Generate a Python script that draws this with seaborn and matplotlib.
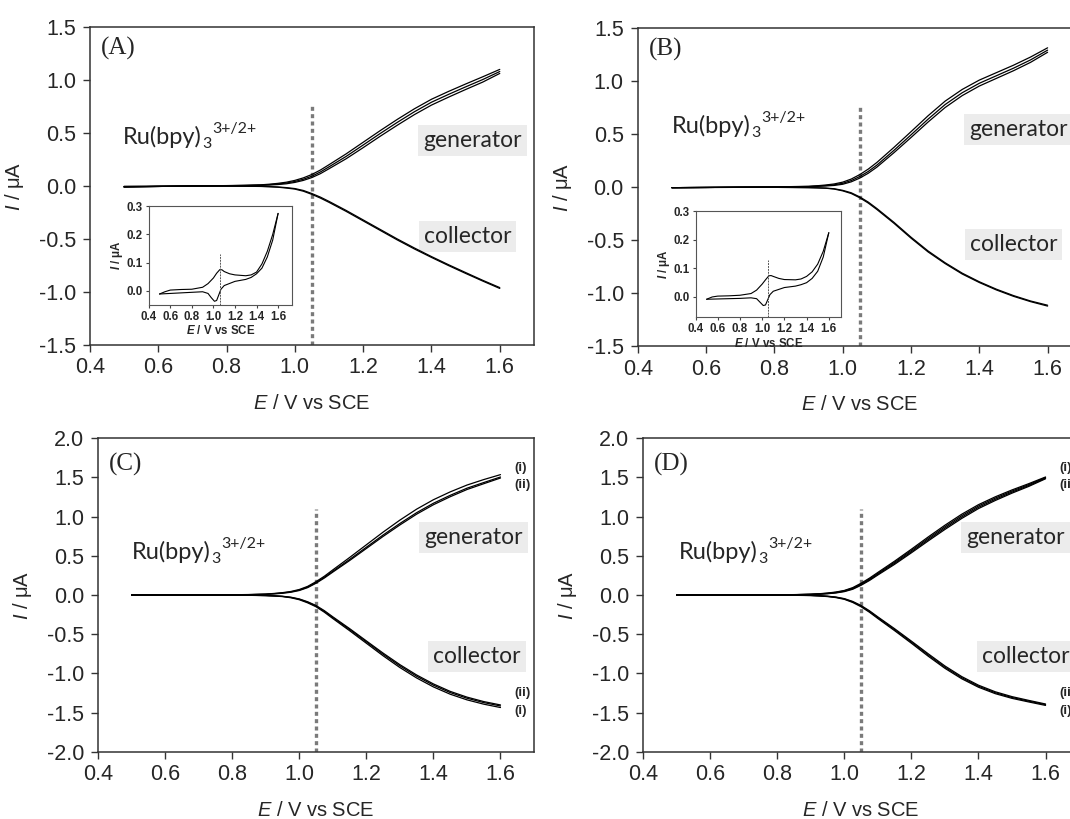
import numpy as np
import pandas as pd
import matplotlib
matplotlib.use('Agg')
import matplotlib.pyplot as plt
import seaborn as sns

sns.set_theme(style='white')
plt.rcParams['font.family'] = ['Liberation Sans', 'DejaVu Sans']
plt.rcParams['axes.unicode_minus'] = False
plt.rcParams['mathtext.fontset'] = 'custom'
plt.rcParams['mathtext.rm'] = 'Liberation Sans'
plt.rcParams['mathtext.it'] = 'Liberation Sans:italic'
plt.rcParams['mathtext.bf'] = 'Liberation Sans:bold'
plt.rcParams['mathtext.bfit'] = 'Liberation Sans:italic:bold'

# potential grid (V vs SCE) shared by all main traces
E = [0.50, 0.60, 0.70, 0.80, 0.85, 0.90, 0.925, 0.95, 0.975, 1.00, 1.025, 1.05,
     1.075, 1.10, 1.15, 1.20, 1.25, 1.30, 1.35, 1.40, 1.45, 1.50, 1.55, 1.60]

# ---- panel A ----
gen_A1 = [-0.010, -0.005, 0.000, 0.003, 0.006, 0.010, 0.016, 0.024, 0.035, 0.052, 0.076, 0.108,
          0.150, 0.200, 0.302, 0.412, 0.522, 0.628, 0.728, 0.818, 0.892, 0.962, 1.030, 1.100]
gen_A2 = [-0.010, -0.005, 0.000, 0.002, 0.004, 0.008, 0.012, 0.018, 0.027, 0.042, 0.063, 0.092,
          0.132, 0.180, 0.278, 0.386, 0.495, 0.600, 0.700, 0.790, 0.864, 0.935, 1.004, 1.080]
gen_A3 = [-0.010, -0.005, 0.000, 0.001, 0.002, 0.005, 0.008, 0.013, 0.020, 0.033, 0.052, 0.079,
          0.116, 0.162, 0.256, 0.361, 0.469, 0.573, 0.673, 0.763, 0.838, 0.910, 0.980, 1.062]
col_A1 = [-0.005, -0.003, -0.002, -0.002, -0.003, -0.005, -0.008, -0.012, -0.020, -0.030, -0.050, -0.080,
          -0.115, -0.155, -0.240, -0.330, -0.420, -0.510, -0.595, -0.675, -0.752, -0.826, -0.898, -0.968]
col_A2 = [-0.005, -0.003, -0.002, -0.002, -0.003, -0.004, -0.006, -0.010, -0.016, -0.025, -0.043, -0.072,
          -0.106, -0.146, -0.231, -0.321, -0.411, -0.501, -0.586, -0.667, -0.744, -0.818, -0.891, -0.960]

# ---- panel B ----
gen_B1 = [-0.005, -0.003, 0.000, 0.003, 0.005, 0.008, 0.013, 0.020, 0.030, 0.047, 0.076, 0.118,
          0.170, 0.232, 0.374, 0.522, 0.672, 0.810, 0.920, 1.008, 1.078, 1.148, 1.225, 1.312]
gen_B2 = [-0.005, -0.003, 0.000, 0.002, 0.004, 0.006, 0.010, 0.015, 0.022, 0.036, 0.062, 0.100,
          0.148, 0.207, 0.346, 0.492, 0.640, 0.778, 0.889, 0.978, 1.049, 1.120, 1.198, 1.290]
gen_B3 = [-0.005, -0.003, 0.000, 0.001, 0.002, 0.004, 0.007, 0.011, 0.016, 0.027, 0.050, 0.085,
          0.131, 0.188, 0.324, 0.467, 0.613, 0.750, 0.862, 0.952, 1.024, 1.096, 1.175, 1.270]
col_B1 = [-0.005, -0.003, -0.002, -0.002, -0.003, -0.005, -0.007, -0.010, -0.018, -0.035, -0.060, -0.100,
          -0.150, -0.210, -0.340, -0.480, -0.610, -0.720, -0.818, -0.898, -0.968, -1.028, -1.078, -1.120]
col_B2 = [-0.005, -0.003, -0.002, -0.002, -0.003, -0.004, -0.006, -0.009, -0.015, -0.030, -0.053, -0.092,
          -0.141, -0.201, -0.331, -0.471, -0.601, -0.712, -0.810, -0.891, -0.961, -1.021, -1.072, -1.112]

# ---- panel C ----
gen_C1 = [0.000, 0.000, 0.000, 0.003, 0.006, 0.012, 0.020, 0.030, 0.045, 0.070, 0.110, 0.170,
          0.240, 0.320, 0.478, 0.640, 0.802, 0.955, 1.095, 1.215, 1.315, 1.402, 1.472, 1.535]
gen_C2 = [0.000, 0.000, 0.000, 0.002, 0.005, 0.010, 0.017, 0.026, 0.040, 0.063, 0.101, 0.159,
          0.227, 0.303, 0.453, 0.609, 0.765, 0.912, 1.050, 1.170, 1.271, 1.362, 1.434, 1.505]
gen_C3 = [0.000, 0.000, 0.000, 0.002, 0.004, 0.008, 0.014, 0.022, 0.035, 0.057, 0.094, 0.150,
          0.217, 0.292, 0.439, 0.593, 0.747, 0.893, 1.031, 1.151, 1.253, 1.345, 1.419, 1.492]
col_C1 = [0.000, 0.000, 0.000, -0.002, -0.004, -0.008, -0.013, -0.020, -0.035, -0.060, -0.100, -0.150,
          -0.220, -0.300, -0.455, -0.615, -0.775, -0.925, -1.058, -1.172, -1.265, -1.337, -1.392, -1.435]
col_C2 = [0.000, 0.000, 0.000, -0.002, -0.003, -0.007, -0.011, -0.018, -0.031, -0.054, -0.092, -0.141,
          -0.209, -0.288, -0.440, -0.598, -0.756, -0.904, -1.036, -1.150, -1.244, -1.316, -1.372, -1.415]
col_C3 = [0.000, 0.000, 0.000, -0.001, -0.003, -0.006, -0.010, -0.016, -0.028, -0.050, -0.086, -0.134,
          -0.200, -0.278, -0.428, -0.585, -0.741, -0.888, -1.020, -1.134, -1.229, -1.302, -1.359, -1.402]

# ---- panel D ----
gen_D1 = [0.000, 0.000, 0.000, 0.003, 0.005, 0.010, 0.016, 0.025, 0.038, 0.058, 0.094, 0.150,
          0.215, 0.288, 0.432, 0.584, 0.740, 0.890, 1.030, 1.152, 1.252, 1.340, 1.420, 1.505]
gen_D2 = [0.000, 0.000, 0.000, 0.002, 0.004, 0.009, 0.014, 0.022, 0.034, 0.053, 0.087, 0.141,
          0.204, 0.276, 0.418, 0.568, 0.722, 0.871, 1.011, 1.135, 1.236, 1.326, 1.408, 1.498]
gen_D3 = [0.000, 0.000, 0.000, 0.002, 0.004, 0.008, 0.012, 0.019, 0.030, 0.048, 0.080, 0.132,
          0.194, 0.265, 0.404, 0.552, 0.705, 0.853, 0.993, 1.118, 1.220, 1.312, 1.396, 1.490]
gen_D4 = [0.000, 0.000, 0.000, 0.001, 0.003, 0.006, 0.010, 0.016, 0.026, 0.043, 0.073, 0.124,
          0.185, 0.255, 0.391, 0.538, 0.689, 0.836, 0.976, 1.102, 1.205, 1.299, 1.385, 1.482]
col_D1 = [0.000, 0.000, 0.000, -0.002, -0.004, -0.007, -0.012, -0.020, -0.033, -0.055, -0.095, -0.150,
          -0.220, -0.300, -0.455, -0.615, -0.780, -0.935, -1.068, -1.176, -1.258, -1.318, -1.364, -1.408]
col_D2 = [0.000, 0.000, 0.000, -0.002, -0.003, -0.006, -0.010, -0.017, -0.029, -0.050, -0.088, -0.141,
          -0.210, -0.289, -0.442, -0.601, -0.764, -0.920, -1.054, -1.163, -1.246, -1.307, -1.354, -1.398]
col_D3 = [0.000, 0.000, 0.000, -0.001, -0.003, -0.005, -0.009, -0.015, -0.026, -0.046, -0.082, -0.134,
          -0.201, -0.279, -0.430, -0.588, -0.749, -0.905, -1.040, -1.150, -1.234, -1.296, -1.344, -1.390]

# ---- insets: single-electrode CVs ----
cv_A_E_fwd = [0.50, 0.55, 0.60, 0.70, 0.80, 0.90, 0.95, 1.00, 1.03, 1.06, 1.08, 1.10, 1.15, 1.20,
              1.30, 1.35, 1.40, 1.45, 1.50, 1.55, 1.60]
cv_A_I_fwd = [-0.012, -0.004, 0.002, 0.004, 0.005, 0.012, 0.025, 0.045, 0.062, 0.075, 0.074, 0.068,
              0.060, 0.056, 0.053, 0.056, 0.066, 0.095, 0.140, 0.200, 0.275]
cv_A_E_rev = [1.60, 1.55, 1.50, 1.45, 1.40, 1.35, 1.30, 1.20, 1.10, 1.07, 1.05, 1.03, 1.01, 0.98,
              0.95, 0.90, 0.80, 0.70, 0.60, 0.50]
cv_A_I_rev = [0.275, 0.180, 0.120, 0.080, 0.060, 0.047, 0.040, 0.033, 0.018, 0.005, -0.015, -0.035,
              -0.038, -0.025, -0.010, -0.004, -0.006, -0.008, -0.010, -0.012]
cv_B_E_fwd = cv_A_E_fwd
cv_B_I_fwd = [-0.008, 0.000, 0.003, 0.004, 0.006, 0.012, 0.024, 0.045, 0.060, 0.074, 0.075, 0.072,
              0.065, 0.061, 0.060, 0.063, 0.072, 0.088, 0.115, 0.160, 0.225]
cv_B_E_rev = cv_A_E_rev
cv_B_I_rev = [0.225, 0.140, 0.090, 0.065, 0.050, 0.043, 0.038, 0.033, 0.020, 0.008, -0.010, -0.028,
              -0.030, -0.018, -0.006, -0.003, -0.005, -0.006, -0.007, -0.008]

panels = {
    'A': dict(traces=[gen_A1, gen_A2, gen_A3, col_A1, col_A2], ylim=(-1.5, 1.5), yticks=np.arange(-1.5, 1.51, 0.5),
              vtop=0.78, ru=(0.497, 0.40), gen=(1.52, 0.43), col=(1.505, -0.48), letter=1.30,
              rect=[0.084, 0.579, 0.415, 0.388]),
    'B': dict(traces=[gen_B1, gen_B2, gen_B3, col_B1, col_B2], ylim=(-1.5, 1.5), yticks=np.arange(-1.5, 1.51, 0.5),
              vtop=0.77, ru=(0.50, 0.51), gen=(1.515, 0.54), col=(1.50, -0.54), letter=1.30,
              rect=[0.596, 0.577, 0.415, 0.389]),
    'C': dict(traces=[gen_C1, gen_C2, gen_C3, col_C1, col_C2, col_C3], ylim=(-2.0, 2.0), yticks=np.arange(-2.0, 2.01, 0.5),
              vtop=1.10, ru=(0.50, 0.46), gen=(1.52, 0.73), col=(1.53, -0.78), letter=1.67,
              rect=[0.0916, 0.082, 0.4075, 0.383]),
    'D': dict(traces=[gen_D1, gen_D2, gen_D3, gen_D4, col_D1, col_D2, col_D3], ylim=(-2.0, 2.0), yticks=np.arange(-2.0, 2.01, 0.5),
              vtop=1.10, ru=(0.506, 0.46), gen=(1.51, 0.73), col=(1.54, -0.78), letter=1.67,
              rect=[0.601, 0.082, 0.4075, 0.383]),
}

fig = plt.figure(figsize=(10.70, 8.19), dpi=100)
box = dict(boxstyle='square,pad=0.22', fc='#ececec', ec='none')
ink = '#262626'

for name, p in panels.items():
    ax = fig.add_axes(p['rect'])
    df = pd.concat([pd.DataFrame({'E': E, 'I': tr, 'trace': k}) for k, tr in enumerate(p['traces'])])
    sns.lineplot(data=df, x='E', y='I', units='trace', estimator=None, sort=False,
                 color='black', lw=0.9, ax=ax, legend=False, zorder=3)
    ax.plot([1.05, 1.05], [p['ylim'][0], p['vtop']], ls=(0, (1.2, 1.0)), color='#7a7a7a', lw=2.4)
    ax.set_xlim(0.4, 1.7)
    ax.set_ylim(*p['ylim'])
    ax.set_xticks([0.4, 0.6, 0.8, 1.0, 1.2, 1.4, 1.6])
    ax.set_xticklabels(['0.4', '0.6', '0.8', '1.0', '1.2', '1.4', '1.6'])
    ax.set_yticks(p['yticks'])
    ax.set_yticklabels([f'{v:.1f}' for v in p['yticks']])
    ax.tick_params(direction='out', length=5, width=1, color='#333333', labelsize=15.5,
                   labelcolor=ink, bottom=True, left=True)
    ax.tick_params(axis='y', pad=5)
    ax.tick_params(axis='x', pad=4)
    for s in ax.spines.values():
        s.set_color('#333333')
        s.set_linewidth(1.1)
    ax.set_xlabel(r'$E$ / V vs SCE', fontsize=14.5, color=ink, labelpad=11)
    ax.set_ylabel(r'$I$ / μA', fontsize=14.5, color=ink, labelpad=9)
    ax.text(0.432, p['letter'], f'({name})', family='Liberation Serif', fontsize=18, va='center')
    # Ru(bpy)3 3+/2+ built from three pieces so sub/superscript sit side by side
    ru = ax.text(p['ru'][0], p['ru'][1], 'Ru(bpy)', family='Lato', fontsize=17,
                 va='baseline', color=ink)
    sub = ax.annotate('3', xy=(1, 0), xycoords=ru, xytext=(0.5, 0.0), textcoords='offset points',
                      family='Lato', fontsize=11.5, va='baseline', color=ink)
    ax.annotate('3+/2+', xy=(1, 0.66), xycoords=(sub, ru), xytext=(0.5, 0), textcoords='offset points',
                family='Lato', fontsize=11.5, va='baseline', color=ink)
    ax.text(p['gen'][0], p['gen'][1], 'generator', family='Lato', fontsize=16.5, ha='center',
            va='center', color=ink, bbox=box, clip_on=False, zorder=1)
    ax.text(p['col'][0], p['col'][1], 'collector', family='Lato', fontsize=16.5, ha='center',
            va='center', color=ink, bbox=box, clip_on=False, zorder=1)
    if name in ('C', 'D'):
        for txt, yy in [('(i)', 1.62), ('(ii)', 1.40), ('(ii)', -1.25), ('(i)', -1.48)]:
            ax.text(1.64, yy, txt, fontsize=9.5, fontweight='bold', va='center', color=ink, clip_on=False)

# insets
insets = {
    'A': dict(rect=[0.139, 0.628, 0.134, 0.120], ylim=(-0.05, 0.3), xlim=(0.4, 1.73), vx=1.06,
              fwd=(cv_A_E_fwd, cv_A_I_fwd), rev=(cv_A_E_rev, cv_A_I_rev)),
    'B': dict(rect=[0.650, 0.613, 0.136, 0.129], ylim=(-0.07, 0.3), xlim=(0.4, 1.71), vx=1.05,
              fwd=(cv_B_E_fwd, cv_B_I_fwd), rev=(cv_B_E_rev, cv_B_I_rev)),
}
for name, q in insets.items():
    ia = fig.add_axes(q['rect'])
    cv = pd.concat([pd.DataFrame({'E': q['fwd'][0], 'I': q['fwd'][1], 'scan': 0}),
                    pd.DataFrame({'E': q['rev'][0], 'I': q['rev'][1], 'scan': 1})])
    sns.lineplot(data=cv, x='E', y='I', units='scan', estimator=None, sort=False,
                 color='black', lw=0.8, ax=ia, legend=False)
    ia.plot([q['vx'], q['vx']], [q['ylim'][0], 0.13], ls=(0, (2, 1)), color='#555555', lw=0.7)
    ia.set_xlim(*q['xlim'])
    ia.set_ylim(*q['ylim'])
    ia.set_xticks([0.4, 0.6, 0.8, 1.0, 1.2, 1.4, 1.6])
    ia.set_xticklabels(['0.4', '0.6', '0.8', '1.0', '1.2', '1.4', '1.6'], fontweight='bold')
    ia.set_yticks([0.0, 0.1, 0.2, 0.3])
    ia.set_yticklabels(['0.0', '0.1', '0.2', '0.3'], fontweight='bold')
    ia.tick_params(direction='out', length=2.5, width=0.8, labelsize=8.3, pad=2,
                   bottom=True, left=True, color='#444444', labelcolor=ink)
    for s in ia.spines.values():
        s.set_color('#555555')
        s.set_linewidth(0.8)
    ia.set_xlabel(r'$\mathbfit{E}$ / V vs SCE', fontsize=8.3, fontweight='bold', labelpad=1, color=ink)
    ia.set_ylabel(r'$\mathbfit{I}$ / μA', fontsize=8.3, fontweight='bold', labelpad=1, color=ink)

fig.savefig('out.png', dpi=100)
